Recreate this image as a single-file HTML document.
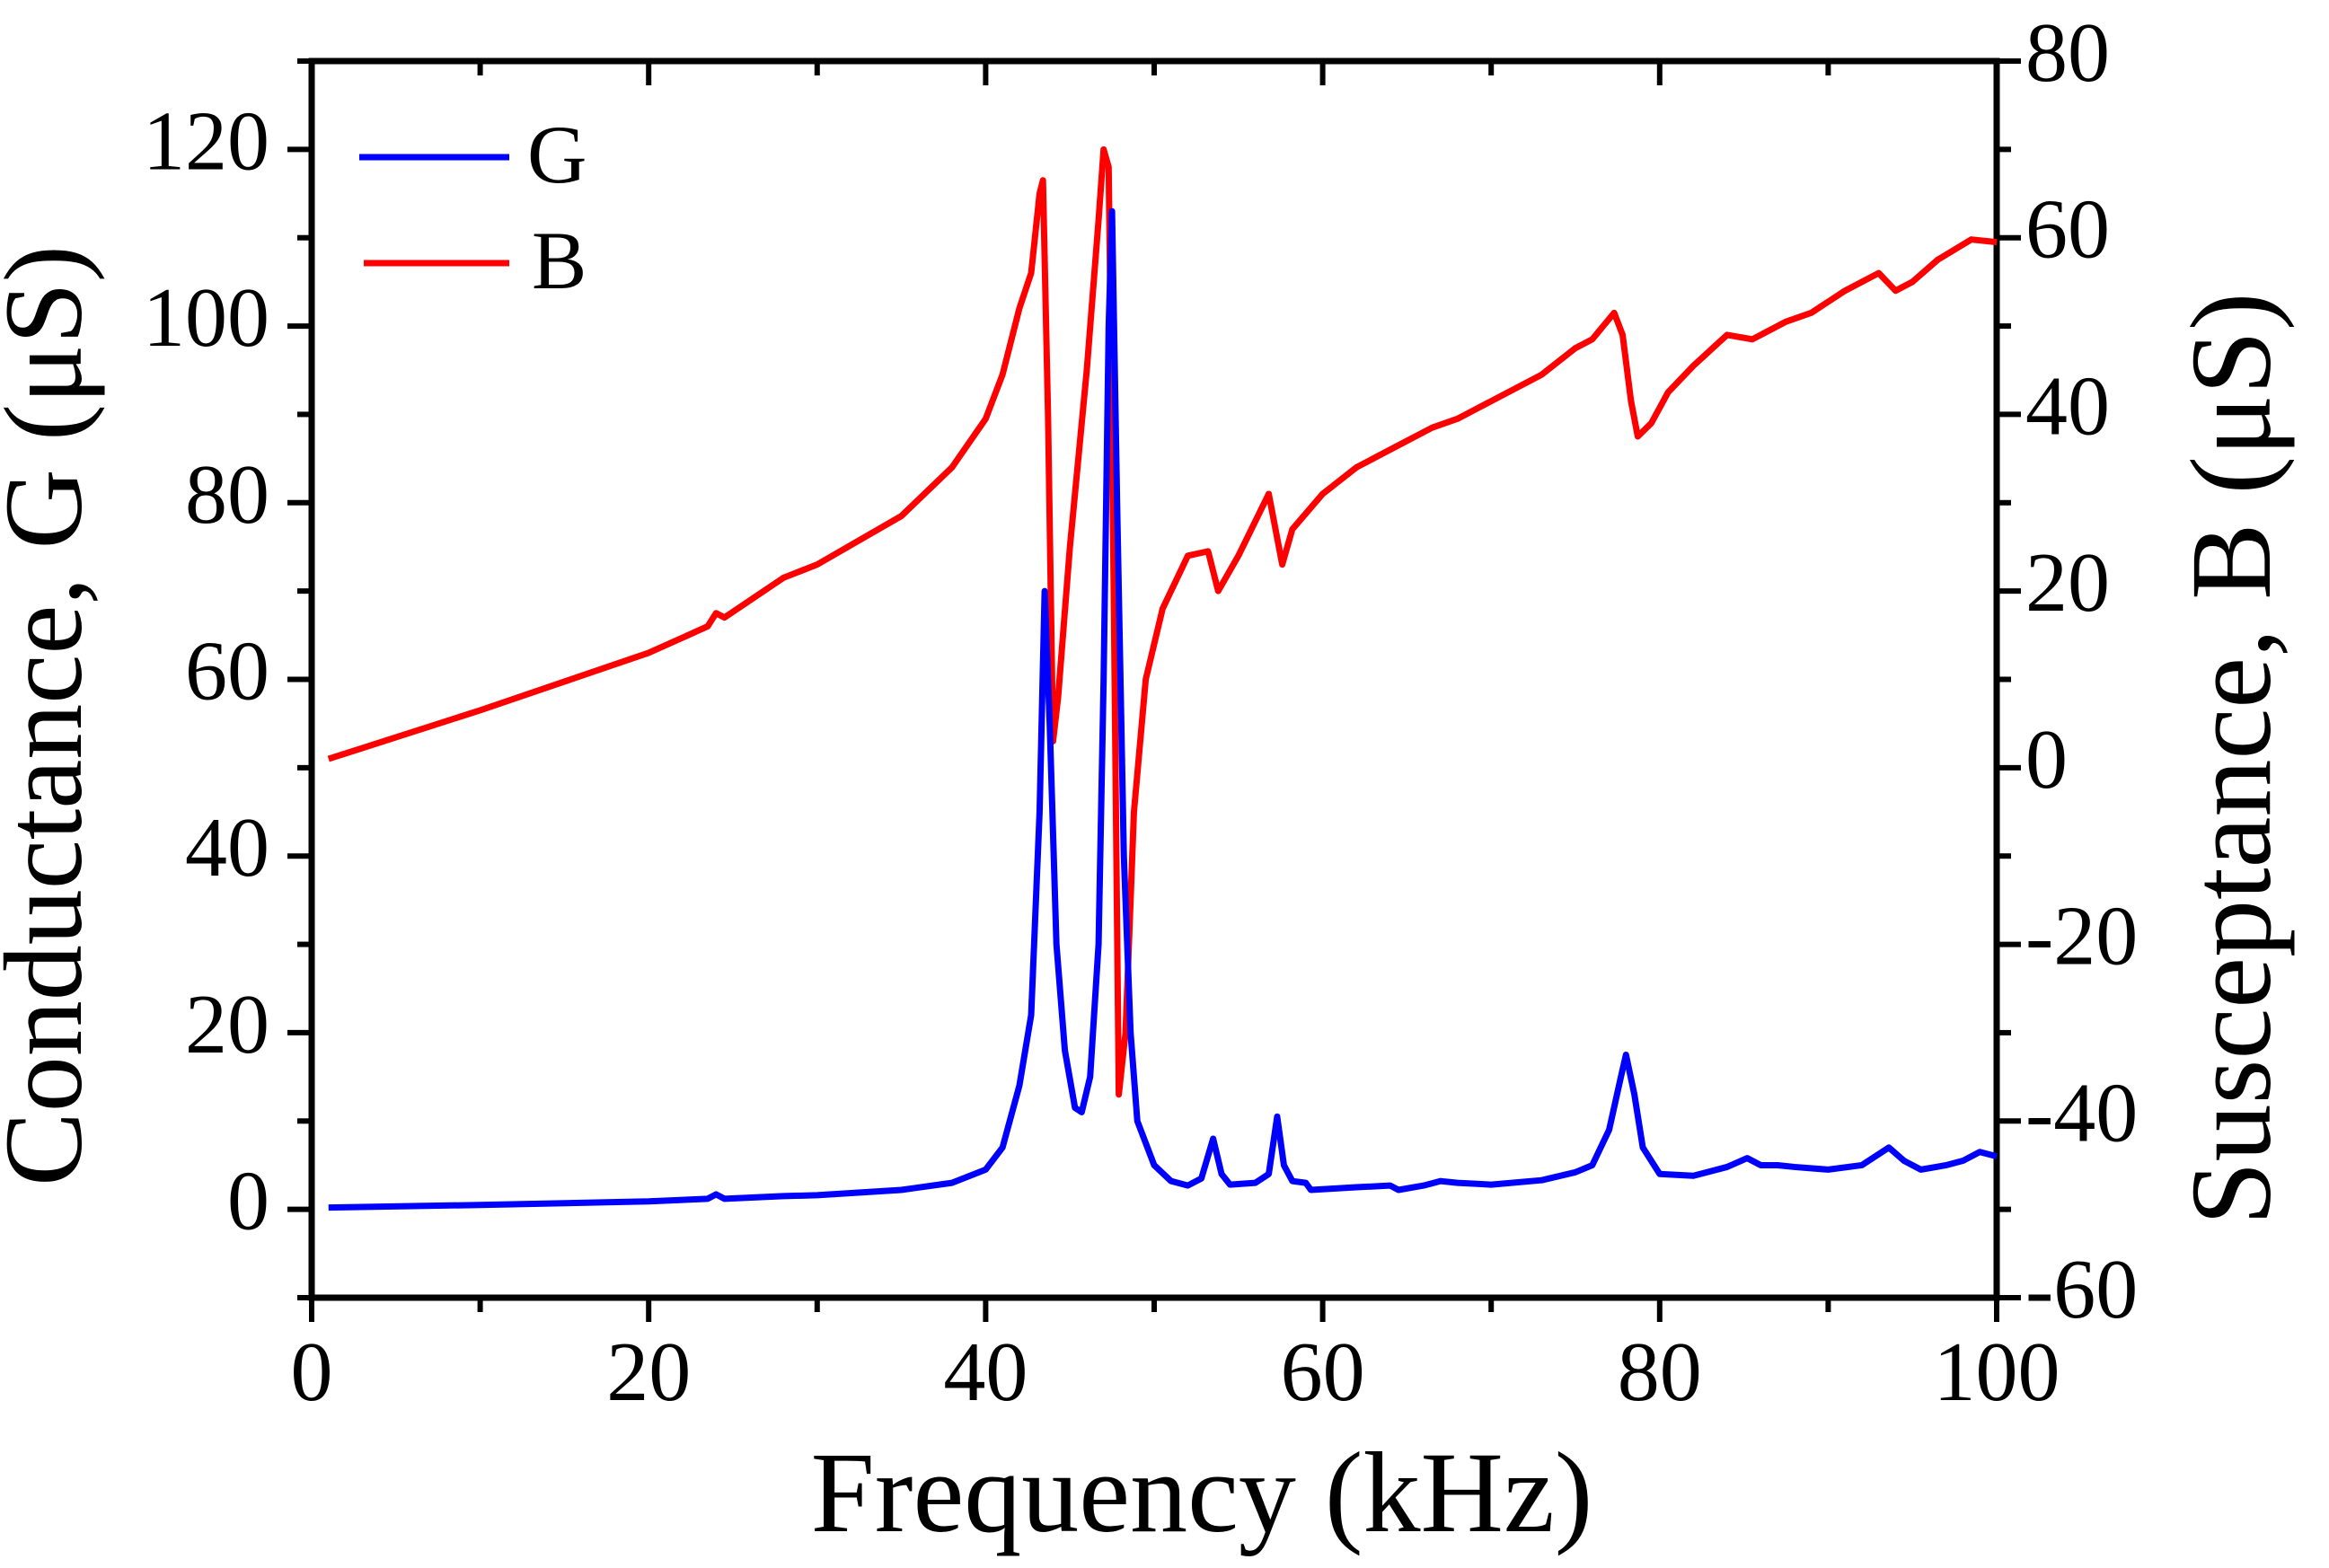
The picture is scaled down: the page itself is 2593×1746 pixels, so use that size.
<!DOCTYPE html>
<html><head><meta charset="utf-8"><style>
html,body{margin:0;padding:0;background:#fff;}
svg{display:block;font-family:"Liberation Serif",serif;}
</style></head><body>
<svg id="chart" width="2593" height="1746" viewBox="0 0 2593 1746" xmlns="http://www.w3.org/2000/svg">
<g id="axes"></g>
<g id="series"></g>
<g id="legend">
<line x1="400" y1="175" x2="567" y2="175" stroke="#0000ff" stroke-width="7"/>
<text x="587" y="203" font-size="92">G</text>
<line x1="405" y1="293" x2="567" y2="293" stroke="#ff0000" stroke-width="7"/>
<text x="592" y="321" font-size="92">B</text>
</g>
<text x="1338" y="1705" font-size="128" text-anchor="middle">Frequency (kHz)</text>
<text transform="translate(90,797) rotate(-90)" font-size="124" text-anchor="middle">Conductance, G (μS)</text>
<text transform="translate(2527,845) rotate(-90)" font-size="128" text-anchor="middle">Susceptance, B (μS)</text>
</svg>
<script>
const xTicks=[0,20,40,60,80,100];
const gTicks=[0,20,40,60,80,100,120];
const bTicks=[-60,-40,-20,0,20,40,60,80];
const gFreq=[1,10,20,23.5,24,24.5,28,30,35,38,40,41,42,42.7,43.2,43.5,43.8,44.2,44.7,45.3,45.7,46.2,46.7,47.0,47.3,47.5,47.8,48.2,48.6,49,50,51,52,52.8,53.5,54,54.5,56,56.8,57.3,57.7,58.2,59,59.3,62,64,64.5,66,67,68,70,73,75,76,77,77.7,78,78.5,79,80,82,84,85.2,86,87,88,90,92,93.6,94.5,95.5,97,98,99,100];
const gVals=[0.2,0.5,0.9,1.2,1.7,1.2,1.5,1.6,2.2,3,4.5,7,14,22,45,70,55,30,18,11.5,11,15,30,60,100,113,80,40,20,10,5,3.2,2.7,3.5,8,4,2.8,3,4,10.5,5,3.2,3,2.2,2.5,2.7,2.2,2.7,3.2,3,2.8,3.3,4.2,5,9,15,17.5,13,7,4,3.8,4.8,5.8,5,5,4.8,4.5,5,7,5.5,4.5,5,5.5,6.5,6];
const bFreq=[1,10,20,23.5,24,24.5,28,30,35,38,40,41,42,42.7,43.2,43.4,43.7,44,44.3,45,46,46.7,47,47.3,47.6,47.9,48.3,48.8,49.5,50.5,52,53.2,53.8,55,56.8,57.6,58.2,60,62,64,66.5,68,70,73,75,76,77.3,77.8,78.3,78.7,79.5,80.5,82,84,85.5,86.5,87.5,89,91,93,94,95,96.5,98.5,100];
const bVals=[1,6.5,13,16,17.5,17,21.5,23,28.5,34,39.5,44.5,52,56,65,66.5,40,3,8,25,45,62,70,68,20,-37,-30,-5,10,18,24,24.5,20,24,31,23,27,31,34,36,38.5,39.5,41.5,44.5,47.5,48.5,51.5,49,41.5,37.5,39,42.5,45.5,49,48.5,49.5,50.5,51.5,54,56,54,55,57.5,59.8,59.5];

const L=347,R=2223,T=68,B=1445;
const X=v=>L+(v/100)*(R-L);
const YG=v=>B-(v+10)/140*(B-T);
const YB=v=>B-(v+60)/140*(B-T);
const NS="http://www.w3.org/2000/svg";
const ax=document.getElementById('axes'), se=document.getElementById('series');
function mk(tag,attrs,parent){const e=document.createElementNS(NS,tag);for(const k in attrs)e.setAttribute(k,attrs[k]);parent.appendChild(e);return e;}
const frame=mk('rect',{x:L,y:T,width:R-L,height:B-T,fill:'none',stroke:'#000','stroke-width':7},ax);


for(let v=0;v<=100;v+=10){const len=v%20===0?27:16;const x=X(v);
 const t1=mk('line',{x1:x,y1:B,x2:x,y2:B+len,stroke:'#000','stroke-width':6},ax);
 
 
 const t2=mk('line',{x1:x,y1:T,x2:x,y2:T+len,stroke:'#000','stroke-width':6},ax);
 
 }
xTicks.forEach(v=>{const t=mk('text',{x:X(v),y:1559,'font-size':94,'text-anchor':'middle'},ax);t.textContent=v;
 
 });
for(let v=-10;v<=130;v+=10){const len=v%20===0?27:16;const y=YG(v);
 const t=mk('line',{x1:L,y1:y,x2:L-len,y2:y,stroke:'#000','stroke-width':6},ax);
 
 }
gTicks.forEach(v=>{const t=mk('text',{x:300,y:YG(v)+22,'font-size':94,'text-anchor':'end'},ax);t.textContent=v;
 
 });
for(let v=-60;v<=80;v+=10){const len=v%20===0?27:16;const y=YB(v);
 const t=mk('line',{x1:R,y1:y,x2:R+len,y2:y,stroke:'#000','stroke-width':6},ax);
 
 }
bTicks.forEach(v=>{const t=mk('text',{x:2255,y:YB(v)+22,'font-size':94,'text-anchor':'start'},ax);t.textContent=v;
 
 });
const pb=mk('polyline',{points:bFreq.map((f,i)=>X(f)+','+YB(bVals[i])).join(' '),fill:'none',stroke:'#ff0000','stroke-width':7,'stroke-linejoin':'round'},se);


const pg=mk('polyline',{points:gFreq.map((f,i)=>X(f)+','+YG(gVals[i])).join(' '),fill:'none',stroke:'#0000ff','stroke-width':7,'stroke-linejoin':'round'},se);


</script>
</body></html>
